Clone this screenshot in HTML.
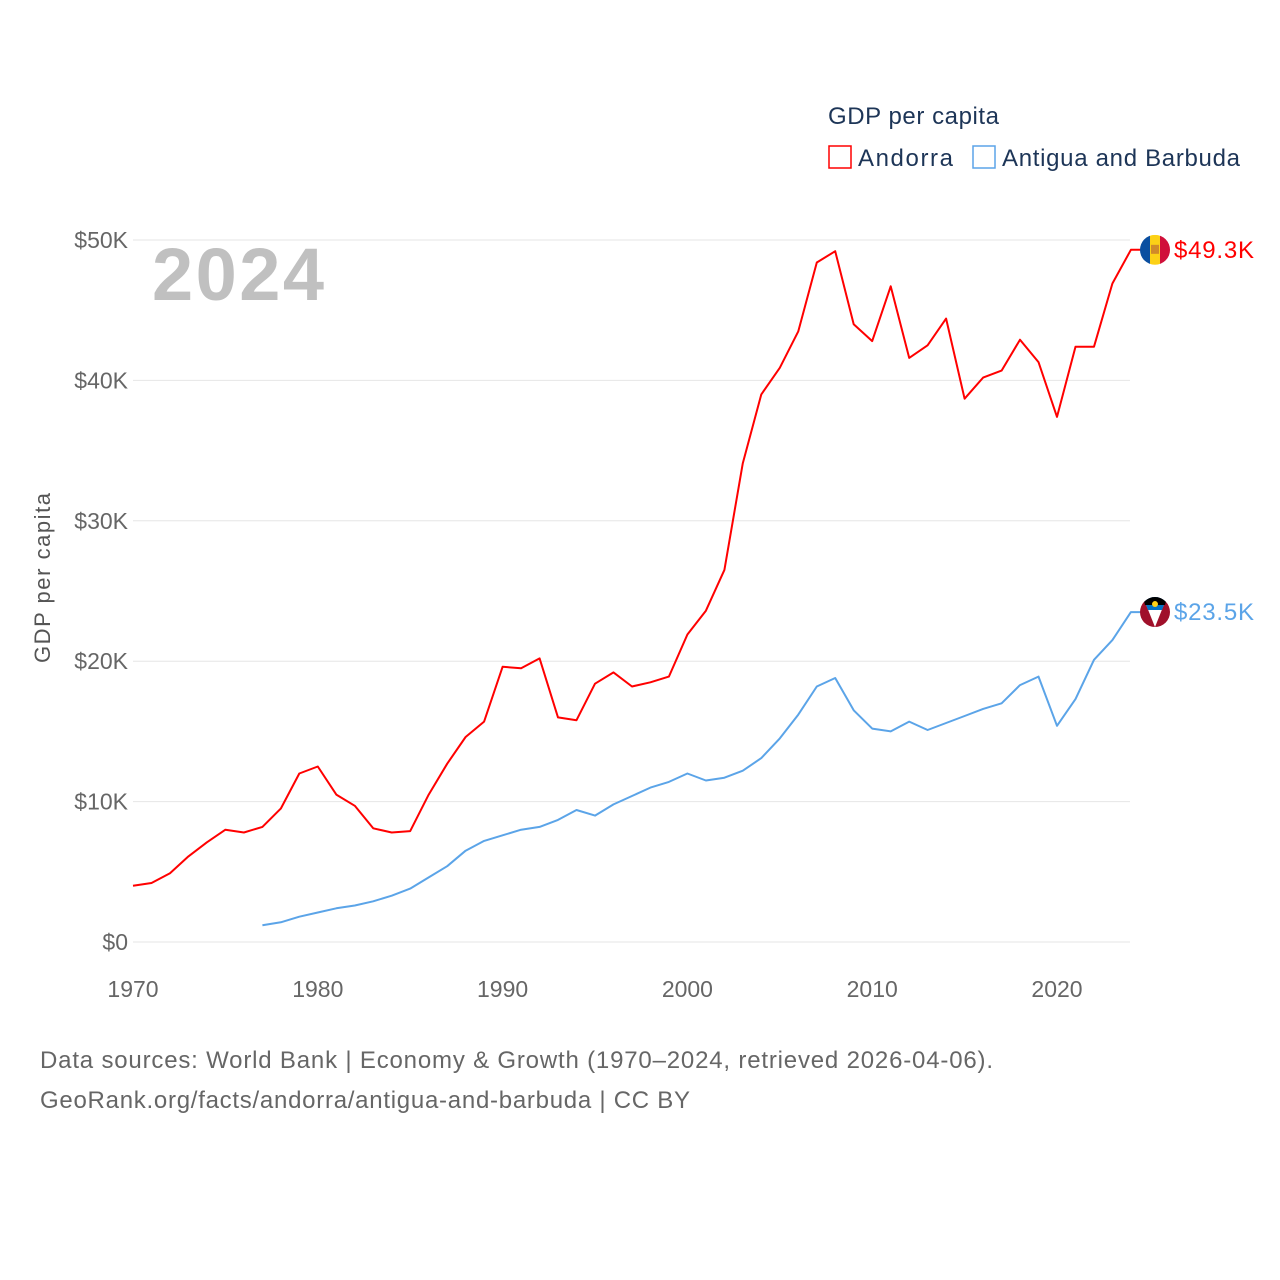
<!DOCTYPE html>
<html><head><meta charset="utf-8"><style>
body{margin:0;background:#fff;}
svg{display:block;font-family:"Liberation Sans",sans-serif;}
</style></head><body>
<svg id="chart" width="1280" height="1280">
<text x="828" y="124" font-size="24" fill="#1d3557" textLength="171">GDP per capita</text>
<g><rect x="829" y="146" width="22" height="22" fill="none" stroke="#f00" stroke-width="1.5"/><text x="858" y="166" font-size="24" fill="#1d3557" textLength="95">Andorra</text></g>
<g><rect x="973" y="146" width="22" height="22" fill="none" stroke="#5ba4e8" stroke-width="1.5"/><text x="1002" y="166" font-size="24" fill="#1d3557" textLength="238">Antigua and Barbuda</text></g>
<text x="152" y="300" font-size="74" font-weight="bold" fill="#c0c0c0" textLength="172">2024</text>
<text transform="translate(50,578) rotate(-90)" text-anchor="middle" font-size="22" fill="#555" textLength="170">GDP per capita</text>
<g id="grid"></g><g id="lines"></g><g id="ends"></g>
<text x="40" y="1068" font-size="24" fill="#666" textLength="953">Data sources: World Bank | Economy &amp; Growth (1970–2024, retrieved 2026-04-06).</text>
<text x="40" y="1108" font-size="24" fill="#666" textLength="650">GeoRank.org/facts/andorra/antigua-and-barbuda | CC BY</text>
</svg>
<script>
const yTicks=[0,10,20,30,40,50];
const xTicks=[1970,1980,1990,2000,2010,2020];
const andorraStart=1970;
const andorra=[4.0,4.2,4.9,6.1,7.1,8.0,7.8,8.2,9.5,12.0,12.5,10.5,9.7,8.1,7.8,7.9,10.5,12.7,14.6,15.7,19.6,19.5,20.2,16.0,15.8,18.4,19.2,18.2,18.5,18.9,21.9,23.6,26.5,34.1,39.0,40.9,43.5,48.4,49.2,44.0,42.8,46.7,41.6,42.5,44.4,38.7,40.2,40.7,42.9,41.3,37.4,42.4,42.4,46.9,49.3];
const antiguaStart=1977;
const antigua=[1.2,1.4,1.8,2.1,2.4,2.6,2.9,3.3,3.8,4.6,5.4,6.5,7.2,7.6,8.0,8.2,8.7,9.4,9.0,9.8,10.4,11.0,11.4,12.0,11.5,11.7,12.2,13.1,14.5,16.2,18.2,18.8,16.5,15.2,15.0,15.7,15.1,15.6,16.1,16.6,17.0,18.3,18.9,15.4,17.3,20.1,21.5,23.5];
const endLabels=["$49.3K","$23.5K"];
const NS="http://www.w3.org/2000/svg";
const X=y=>133+(y-1970)*18.48;
const Y=v=>942-v*14.04;
function mk(t,a,p){const e=document.createElementNS(NS,t);for(const k in a)e.setAttribute(k,a[k]);p.appendChild(e);return e;}
const grid=document.getElementById('grid');
yTicks.forEach(v=>{
 const l=mk('line',{x1:133,x2:1130,y1:Y(v),y2:Y(v),stroke:'#e6e6e6','stroke-width':1},grid);
 
 
 const t=mk('text',{x:128,y:Y(v)+8,'text-anchor':'end','font-size':23,fill:'#666'},grid);
 t.textContent=v===0?'$0':'$'+v+'K';
 
 
});
xTicks.forEach(y=>{
 const t=mk('text',{x:X(y),y:997,'text-anchor':'middle','font-size':23,fill:'#666'},grid);
 t.textContent=y;
 
 
});
const lines=document.getElementById('lines');
function series(vals,start,color,name){
 const pts=vals.map((v,i)=>X(start+i).toFixed(1)+','+Y(v).toFixed(1));
 const last=vals[vals.length-1];
 pts.push((X(start+vals.length-1)+10).toFixed(1)+','+Y(last).toFixed(1));
 const p=mk('polyline',{points:pts.join(' '),fill:'none',stroke:color,'stroke-width':2,'stroke-linejoin':'round'},lines);
 
 
 return Y(last);
}
const ya=series(andorra,andorraStart,'#f00','andorra');
const yb=series(antigua,antiguaStart,'#5ba4e8','antigua');
const ends=document.getElementById('ends');
const fa=mk('g',{},ends);


const ca=mk('clipPath',{id:'ca'},fa);mk('circle',{cx:1155,cy:ya,r:15},ca);
const ga=mk('g',{'clip-path':'url(#ca)'},fa);
mk('rect',{x:1140,y:ya-15,width:10,height:30,fill:'#0a4fa0'},ga);
mk('rect',{x:1150,y:ya-15,width:10,height:30,fill:'#fcd116'},ga);
mk('rect',{x:1160,y:ya-15,width:10,height:30,fill:'#d0103a'},ga);
mk('rect',{x:1151,y:ya-5,width:8,height:9,fill:'#d08a2a'},ga);
const fb=mk('g',{},ends);


const cp=mk('clipPath',{id:'cb'},fb);mk('circle',{cx:1155,cy:yb,r:15},cp);
const gb=mk('g',{'clip-path':'url(#cb)'},fb);
mk('rect',{x:1140,y:yb-15,width:30,height:30,fill:'#a0102a'},gb);
mk('polygon',{points:`1143,${yb-15} 1167,${yb-15} 1155,${yb+15}`,fill:'#fff'},gb);
mk('polygon',{points:`1143,${yb-15} 1167,${yb-15} 1162,${yb-2} 1148,${yb-2}`,fill:'#0072c6'},gb);
mk('polygon',{points:`1143,${yb-15} 1167,${yb-15} 1165,${yb-7} 1145,${yb-7}`,fill:'#000'},gb);
mk('circle',{cx:1155,cy:yb-8,r:3,fill:'#fcd116'},gb);
const la=mk('text',{x:1174,y:ya+8,'font-size':24,fill:'#f00',textLength:80},ends);la.textContent=endLabels[0];


const lb=mk('text',{x:1174,y:yb+8,'font-size':24,fill:'#5ba4e8',textLength:80},ends);lb.textContent=endLabels[1];


</script>
</body></html>
